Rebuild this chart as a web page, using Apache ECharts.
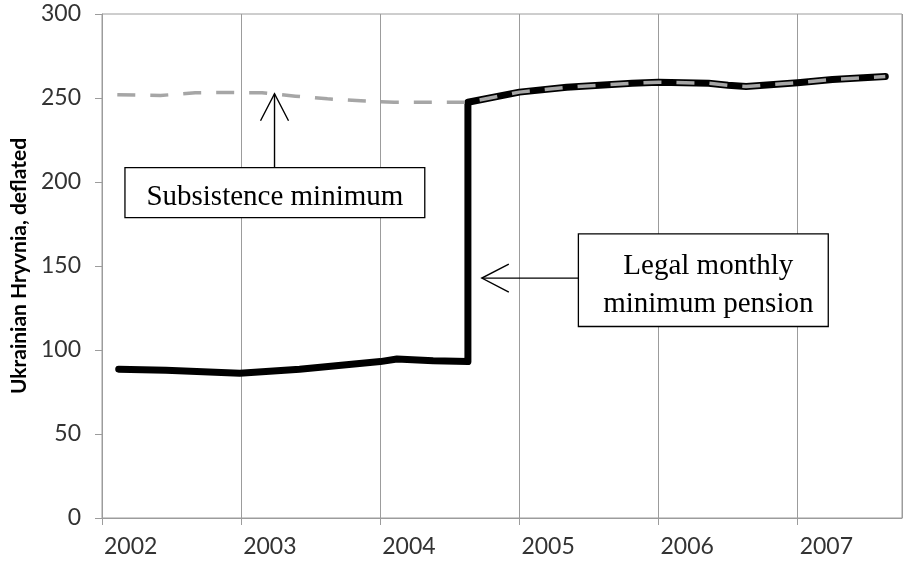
<!DOCTYPE html>
<html>
<head>
<meta charset="utf-8">
<script src="https://cdn.jsdelivr.net/npm/echarts@6/dist/echarts.min.js"></script>
<style>
  html, body { margin: 0; padding: 0; background: #fff; }
  #chart { width: 905px; height: 565px; }
</style>
</head>
<body>
<div id="chart"></div>
<script>
// ---- data ----
const pensionYears  = [2002.12, 2002.46, 2002.99, 2003.42, 2004.00, 2004.12, 2004.38, 2004.63, 2004.63, 2005.00, 2005.34, 2005.81, 2006.00, 2006.36, 2006.50, 2006.63, 2007.00, 2007.25, 2007.63];
const pensionValues = [88.6,    88.0,    86.2,    88.6,    93.1,    94.6,    93.6,    93.1,    247.5,   253.5,   256.4,   258.8,   259.4,   258.8,   257.6,   256.9,   259.1,   261.0,   262.8];

const subsistenceYears  = [2002.11, 2002.42, 2002.67, 2002.90, 2003.15, 2003.39, 2003.62, 2003.86, 2004.10, 2004.34, 2004.63, 2005.00, 2005.34, 2005.81, 2006.00, 2006.36, 2006.50, 2006.63, 2007.00, 2007.25, 2007.63];
const subsistenceValues = [252.0,   251.5,   253.1,   253.3,   253.1,   251.1,   249.5,   248.3,   247.5,   247.5,   247.5,   253.5,   256.4,   258.8,   259.4,   258.8,   257.6,   256.9,   259.1,   261.0,   262.8];

const yAxisTitle = 'Ukrainian Hryvnia, deflated';
const subsistenceLabel = 'Subsistence minimum';
const pensionLabel = 'Legal monthly\nminimum pension';

// ---- annotation anchors in data coordinates ----
const subsistenceBox   = { from: [2002.165, 208.6], to: [2004.32, 178.8] };
const subsistenceArrow = { from: [2003.24, 208.6],  to: [2003.24, 252.5] };
const pensionBox       = { from: [2005.424, 169.1], to: [2007.22, 114.0] };
const pensionArrow     = { from: [2005.424, 142.8], to: [2004.73, 142.8] };

const zip = (xs, ys) => xs.map((x, i) => [x, ys[i]]);

const gridColor = '#9c9c9c';
const labelFont = 'Lato';

const chart = echarts.init(document.getElementById('chart'), null, { renderer: 'canvas' });

const option = {
  animation: false,
  backgroundColor: '#ffffff',
  grid: {
    left: 102, right: 3, top: 14, bottom: 47,
    show: true, borderColor: gridColor, borderWidth: 1, backgroundColor: 'transparent'
  },
  xAxis: {
    type: 'value',
    min: 2002, max: 2007.75, interval: 1,
    axisLine: { show: true, lineStyle: { color: gridColor, width: 1 } },
    axisTick: { show: true, inside: false, length: 7, lineStyle: { color: gridColor } },
    splitLine: { show: true, lineStyle: { color: gridColor, width: 1 } },
    axisLabel: {
      show: true, align: 'left', margin: 17, padding: [0, 0, 0, 2],
      fontFamily: labelFont, fontSize: 23, color: '#333333',
      showMaxLabel: false,
      formatter: v => (Number.isInteger(v) ? String(v) : '')
    }
  },
  yAxis: {
    type: 'value',
    min: 0, max: 300, interval: 50,
    name: yAxisTitle,
    nameLocation: 'middle',
    nameGap: 72,
    nameTextStyle: { fontFamily: labelFont, fontWeight: 'bold', fontSize: 21, color: '#000' },
    axisLine: { show: true, lineStyle: { color: gridColor, width: 1 } },
    axisTick: { show: true, inside: false, length: 7, lineStyle: { color: gridColor } },
    splitLine: { show: false },
    axisLabel: { margin: 21, fontFamily: labelFont, fontSize: 23, color: '#333333' }
  },
  series: [
    {
      name: 'Legal monthly minimum pension',
      type: 'line',
      data: zip(pensionYears, pensionValues),
      showSymbol: false,
      symbol: 'none',
      z: 3,
      lineStyle: { color: '#000000', width: 7, cap: 'round', join: 'round' }
    },
    {
      name: 'Subsistence minimum',
      type: 'line',
      data: zip(subsistenceYears, subsistenceValues),
      showSymbol: false,
      symbol: 'none',
      z: 4,
      lineStyle: { color: '#a6a6a6', width: 3.5, type: [18, 15], cap: 'butt', join: 'round' }
    }
  ]
};

chart.setOption(option);

function px(p) { return chart.convertToPixel({ xAxisIndex: 0, yAxisIndex: 0 }, p); }

function arrowGraphics(a) {
  const s = px(a.from), e = px(a.to);
  const dx = e[0] - s[0], dy = e[1] - s[1];
  const len = Math.hypot(dx, dy);
  const ux = dx / len, uy = dy / len;
  const hl = 27, hw = 14;
  const bx = e[0] - ux * hl, by = e[1] - uy * hl;
  const nx = -uy, ny = ux;
  const st = { stroke: '#000', lineWidth: 1.4, fill: null };
  return [
    { type: 'polyline', z: 100, shape: { points: [s, e] }, style: st },
    { type: 'polyline', z: 100, shape: { points: [[bx + nx * hw, by + ny * hw], e, [bx - nx * hw, by - ny * hw]] }, style: st }
  ];
}

function boxGraphics(b, text, dx, dy, lineHeight) {
  const p1 = px(b.from), p2 = px(b.to);
  const x = Math.min(p1[0], p2[0]), y = Math.min(p1[1], p2[1]);
  const w = Math.abs(p2[0] - p1[0]), h = Math.abs(p2[1] - p1[1]);
  return [
    { type: 'rect', z: 100, shape: { x: x, y: y, width: w, height: h },
      style: { fill: '#ffffff', stroke: '#000000', lineWidth: 1.3 } },
    { type: 'text', z: 101,
      style: { text: text, x: x + w / 2 + dx, y: y + h / 2 + dy,
               fontFamily: '"Liberation Serif", "Times New Roman", serif', fontSize: 29,
               lineHeight: lineHeight, fill: '#000', align: 'center', verticalAlign: 'middle' } }
  ];
}

chart.setOption({
  graphic: [].concat(
    arrowGraphics(subsistenceArrow),
    boxGraphics(subsistenceBox, subsistenceLabel, 0, 5, 34),
    arrowGraphics(pensionArrow),
    boxGraphics(pensionBox, pensionLabel, 5, 5, 38)
  )
});
</script>
</body>
</html>
